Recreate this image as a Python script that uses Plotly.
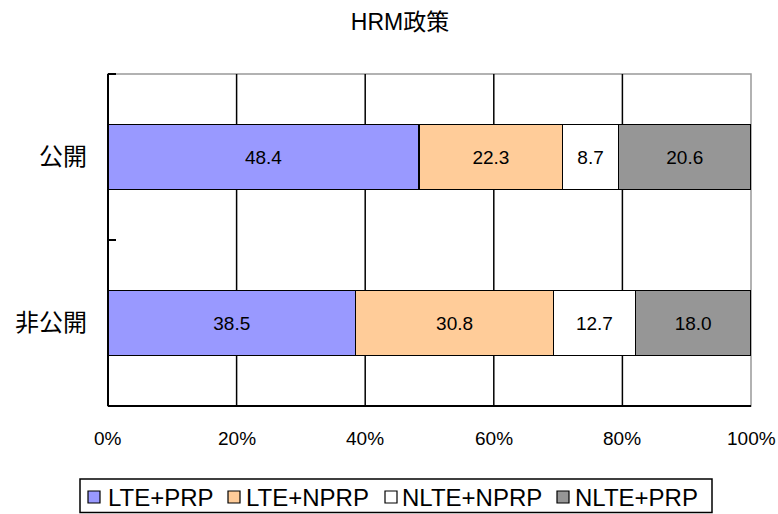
import plotly.graph_objects as go

categories = ["公開", "非公開"]
series_names = ["LTE+PRP", "LTE+NPRP", "NLTE+NPRP", "NLTE+PRP"]
series_values = [
    [48.4, 38.5],
    [22.3, 30.8],
    [8.7, 12.7],
    [20.6, 18.0],
]
series_colors = ["#9999FF", "#FFCC99", "#FFFFFF", "#969696"]
x_ticks = [0, 20, 40, 60, 80, 100]
x_tick_labels = ["0%", "20%", "40%", "60%", "80%", "100%"]

FONT = "Liberation Sans, Arial, Noto Sans CJK JP, sans-serif"
CJK = "Noto Sans CJK JP, sans-serif"

W, H = 778, 514
L, R, T, B = 108, 751, 74, 406  # plot area in pixels


def px(x):
    return (x - L) / (R - L)


def py(y):
    return (B - y) / (B - T)


fig = go.Figure()
for name, vals, col in zip(series_names, series_values, series_colors):
    fig.add_trace(go.Bar(
        name=name, y=categories, x=vals, orientation="h",
        marker=dict(color=col, line=dict(color="#000000", width=1.5)),
        text=[f"{v:.1f}" for v in vals], textposition="inside",
        insidetextanchor="middle", constraintext="none",
        textfont=dict(family=FONT, size=19, color="#000000"),
        width=0.39, showlegend=False,
    ))

shapes = []
# frame: gray top/right, black left/bottom axes
shapes.append(dict(type="rect", xref="paper", yref="paper", x0=0, x1=1, y0=0, y1=1,
                   line=dict(color="#999999", width=1.5), layer="below"))
for v in x_ticks[1:-1]:
    shapes.append(dict(type="line", xref="x", yref="paper", x0=v, x1=v, y0=0, y1=1,
                       line=dict(color="#000000", width=1.5), layer="below"))
shapes.append(dict(type="line", xref="paper", yref="paper", x0=0, x1=0, y0=0, y1=1,
                   line=dict(color="#000000", width=2)))
shapes.append(dict(type="line", xref="paper", yref="paper", x0=0, x1=1, y0=0, y1=0,
                   line=dict(color="#000000", width=2)))
# category boundary ticks on the value-axis side
for yb in (0, 0.5, 1):
    shapes.append(dict(type="line", xref="paper", yref="paper", x0=0, x1=px(116),
                       y0=yb, y1=yb, line=dict(color="#000000", width=2)))

# legend box with swatches
shapes.append(dict(type="rect", xref="paper", yref="paper",
                   x0=px(80), x1=px(712), y0=py(479), y1=py(512.5),
                   line=dict(color="#000000", width=1.5), fillcolor="white"))
swatch_x = [88, 228, 385, 557]
label_x = [106, 244, 400, 573]
annotations = []
for sx, lx, name, col in zip(swatch_x, label_x, series_names, series_colors):
    shapes.append(dict(type="rect", xref="paper", yref="paper",
                       x0=px(sx), x1=px(sx + 12), y0=py(491), y1=py(503),
                       line=dict(color="#000000", width=1.2), fillcolor=col))
    annotations.append(dict(text=name, xref="paper", yref="paper",
                            x=px(lx), y=py(497), xanchor="left", yanchor="middle",
                            showarrow=False,
                            font=dict(family=FONT, size=24, color="#000000")))

# value-axis tick labels
for v, t in zip(x_ticks, x_tick_labels):
    annotations.append(dict(text=t, xref="x", yref="paper", x=v, y=py(438),
                            xanchor="center", yanchor="middle", showarrow=False,
                            font=dict(family=FONT, size=19, color="#000000")))

fig.update_layout(
    width=W, height=H,
    margin=dict(l=L, r=W - R, t=T, b=H - B),
    paper_bgcolor="white", plot_bgcolor="white",
    barmode="stack",
    title=dict(text="HRM政策", x=400 / W, xref="container", xanchor="center",
               y=1 - 22 / H, yanchor="middle",
               font=dict(family=FONT, size=23, color="#000000")),
    xaxis=dict(range=[0, 100], showticklabels=False, showgrid=False,
               zeroline=False, showline=False, ticks="", automargin=False),
    yaxis=dict(autorange="reversed", showgrid=False, showline=False, ticks="",
               ticklabelstandoff=20, automargin=False,
               tickfont=dict(family=CJK, size=24, color="#000000")),
    shapes=shapes,
    annotations=annotations,
    showlegend=False,
)

fig.write_html("out.html")
